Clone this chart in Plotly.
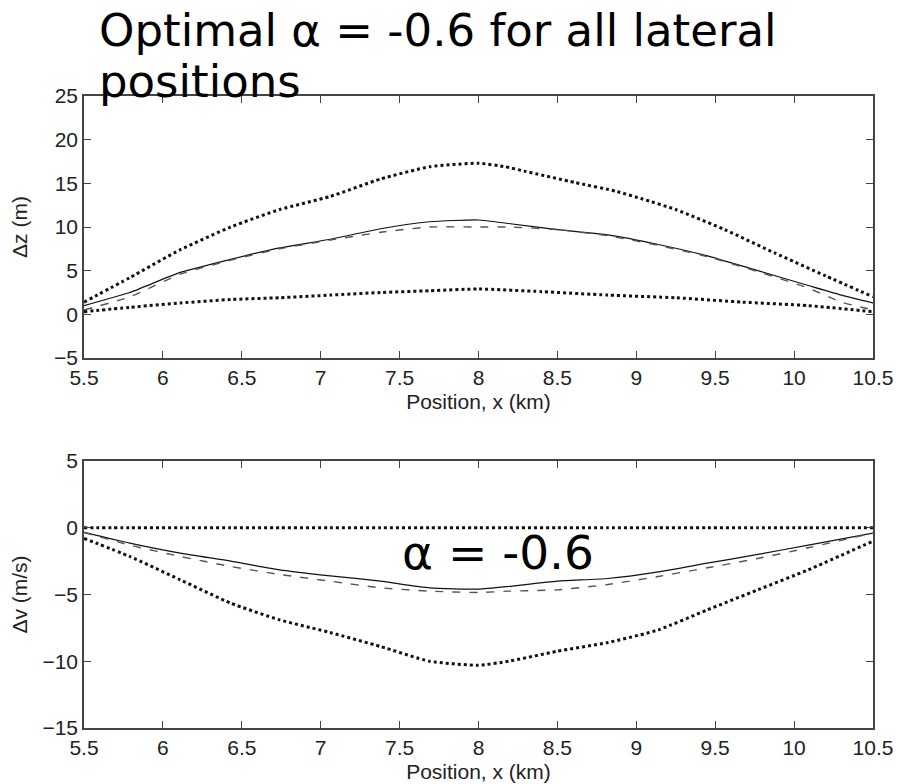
import plotly.graph_objects as go

# ---------------- data ----------------
x_ticks = [5.5, 6, 6.5, 7, 7.5, 8, 8.5, 9, 9.5, 10, 10.5]
x_ticktext = ["5.5", "6", "6.5", "7", "7.5", "8", "8.5", "9", "9.5", "10", "10.5"]
dz_ticks = [-5, 0, 5, 10, 15, 20, 25]
dz_ticktext = ["\u22125", "0", "5", "10", "15", "20", "25"]
dv_ticks = [-15, -10, -5, 0, 5]
dv_ticktext = ["\u221215", "\u221210", "\u22125", "0", "5"]

# top panel: delta z (m)
x_dz_upper = [5.5, 5.79, 6.11, 6.43, 6.74, 7.06, 7.38, 7.69, 8.0, 8.17, 8.29, 8.61, 8.87, 9.04, 9.25, 9.56, 9.88, 10.2, 10.5]
dz_upper = [1.4, 4.2, 7.4, 10.0, 12.0, 13.5, 15.5, 16.9, 17.3, 16.9, 16.4, 15.1, 14.1, 13.2, 12.0, 9.7, 7.0, 4.4, 2.0]

x_dz_mid = [5.5, 5.79, 6.11, 6.43, 6.74, 7.06, 7.38, 7.69, 8.0, 8.19, 8.5, 8.82, 9.14, 9.45, 9.77, 10.09, 10.3, 10.5]
dz_solid = [1.0, 2.5, 4.8, 6.3, 7.6, 8.6, 9.8, 10.6, 10.8, 10.4, 9.7, 9.1, 8.0, 6.7, 5.0, 3.3, 2.2, 1.3]
dz_dashed = [0.5, 2.0, 4.6, 6.2, 7.5, 8.5, 9.4, 10.0, 10.0, 10.0, 9.7, 9.0, 7.9, 6.6, 4.9, 3.0, 1.4, 0.5]

x_dz_lower = [5.5, 5.79, 6.11, 6.43, 6.74, 7.06, 7.38, 7.69, 8.0, 8.4, 8.82, 9.25, 9.67, 10.09, 10.5]
dz_lower = [0.3, 0.8, 1.3, 1.7, 1.9, 2.2, 2.5, 2.7, 2.9, 2.6, 2.2, 1.9, 1.4, 1.0, 0.3]

# bottom panel: delta v (m/s)
x_dv = [5.5, 5.79, 6.11, 6.43, 6.74, 7.06, 7.38, 7.69, 8.0, 8.19, 8.5, 8.82, 9.14, 9.45, 9.77, 10.09, 10.5]
dv_zero = [0, 0, 0, 0, 0, 0, 0, 0, 0, 0, 0, 0, 0, 0, 0, 0, 0]
dv_solid = [-0.35, -1.15, -1.9, -2.5, -3.15, -3.6, -4.0, -4.5, -4.6, -4.4, -4.0, -3.8, -3.3, -2.65, -2.0, -1.3, -0.4]
dv_dashed = [-0.35, -1.3, -2.15, -2.9, -3.5, -4.0, -4.5, -4.75, -4.85, -4.75, -4.65, -4.25, -3.65, -3.0, -2.3, -1.5, -0.4]
dv_lower = [-0.8, -2.15, -3.9, -5.65, -6.9, -7.85, -8.9, -10.0, -10.3, -10.0, -9.25, -8.6, -7.65, -6.15, -4.65, -3.15, -1.0]

title_line1 = "Optimal \u03b1 = -0.6 for all lateral"
title_line2 = "positions"
alpha_label = "\u03b1 = -0.6"

# ---------------- figure ----------------
fig = go.Figure()

dot_style = dict(color="#111111", width=3, dash="dot")
solid_style = dict(color="#111111", width=1.2)
dash_style = dict(color="#555555", width=1.4, dash="8px,9px")

def add(x, y, line, xa, ya):
    fig.add_trace(go.Scatter(x=x, y=y, mode="lines", line=dict(shape="spline", smoothing=0.5, **line),
                             xaxis=xa, yaxis=ya, showlegend=False, hoverinfo="skip"))

add(x_dz_upper, dz_upper, dot_style, "x", "y")
add(x_dz_mid, dz_solid, solid_style, "x", "y")
add(x_dz_mid, dz_dashed, dash_style, "x", "y")
add(x_dz_lower, dz_lower, dot_style, "x", "y")

add(x_dv, dv_zero, dot_style, "x2", "y2")
add(x_dv, dv_solid, solid_style, "x2", "y2")
add(x_dv, dv_dashed, dash_style, "x2", "y2")
add(x_dv, dv_lower, dot_style, "x2", "y2")

tick_font = dict(family="Liberation Sans, Arial, sans-serif", size=21, color="#222222")
axis_common = dict(showline=True, linecolor="#444444", linewidth=1.5, mirror="allticks",
                   ticks="inside", ticklen=7, tickcolor="#444444", tickwidth=1.2,
                   showgrid=False, zeroline=False, tickfont=tick_font, automargin=False)

# the page body adds an 8px offset, so the figure is 8px smaller and margins shifted
OFF = 8
W, H = 901 - OFF, 784 - OFF
ml, mr, mt, mb = 84 - OFF, 28, 96 - OFF, 56
ph = H - mt - mb
pw = W - ml - mr

def py(Y):  # Y in window pixels
    return (H + OFF - mb - Y) / ph

def px(X):
    return (X - OFF - ml) / pw

fig.update_layout(
    width=W, height=H,
    margin=dict(l=ml, r=mr, t=mt, b=mb, autoexpand=False),
    paper_bgcolor="white", plot_bgcolor="white",
    showlegend=False,
    xaxis=dict(domain=[0, 1], range=[5.5, 10.5], tickvals=x_ticks, ticktext=x_ticktext,
               anchor="y", title=dict(text="Position, x (km)", font=tick_font, standoff=6), **axis_common),
    yaxis=dict(domain=[py(358), 1], range=[-5, 25], tickvals=dz_ticks, ticktext=dz_ticktext,
               anchor="x", title=dict(text="\u0394z (m)", font=tick_font, standoff=30), **axis_common),
    xaxis2=dict(domain=[0, 1], range=[5.5, 10.5], tickvals=x_ticks, ticktext=x_ticktext,
                anchor="y2", title=dict(text="Position, x (km)", font=tick_font, standoff=6), **axis_common),
    yaxis2=dict(domain=[0, py(461)], range=[-15, 5], tickvals=dv_ticks, ticktext=dv_ticktext,
                anchor="x2", title=dict(text="\u0394v (m/s)", font=tick_font, standoff=30), **axis_common),
)

title_font = dict(family="DejaVu Sans, sans-serif", size=45, color="black")
alpha_font = dict(family="DejaVu Sans, sans-serif", size=47, color="black")
fig.add_annotation(text=title_line1, xref="paper", yref="paper", x=px(97), y=py(30),
                   xanchor="left", yanchor="middle", showarrow=False, font=title_font)
fig.add_annotation(text=title_line2, xref="paper", yref="paper", x=px(97), y=py(81),
                   xanchor="left", yanchor="middle", showarrow=False, font=title_font)
fig.add_annotation(text=alpha_label, xref="x2", yref="y2", x=7.50, y=-1.85,
                   xanchor="left", yanchor="middle", showarrow=False, font=alpha_font)

fig.write_html("out.html")
